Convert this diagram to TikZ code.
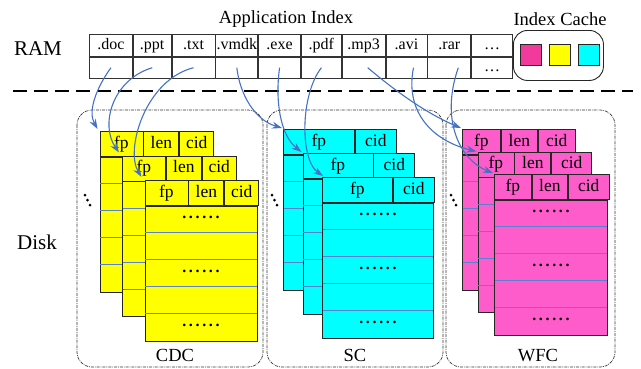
\documentclass[tikz,border=0pt]{standalone}
\usepackage{fontspec}
\setmainfont{Liberation Serif}
\usetikzlibrary{arrows.meta,calc}
\definecolor{arrblue}{RGB}{68,114,196}
\definecolor{rowblue}{RGB}{90,128,208}
\definecolor{cyel}{RGB}{255,255,0}
\definecolor{ccya}{RGB}{0,255,255}
\definecolor{cmag}{RGB}{255,92,203}
\definecolor{cachemag}{RGB}{242,58,156}
\newcommand\sixdots{.\,.\,.\,.\,.\,.}
\tikzset{
  cell/.style={draw=black!85, line width=0.9pt, inner sep=0pt, minimum height=25pt,
    text height=12pt, text depth=3.5pt, font=\fontsize{17.5}{17.5}\selectfont, anchor=north west},
  bodybox/.style={draw=black!85, line width=0.9pt, inner sep=0pt, minimum height=135pt, anchor=north west},
  rowline/.style={draw=rowblue, line width=0.9pt},
  tcell/.style={draw=black!80, line width=0.8pt, inner sep=0pt, text height=11pt, text depth=3pt,
    font=\fontsize{16}{16}\selectfont, anchor=north west},
  panel/.style={draw=black!80, line width=0.7pt, rounded corners=15pt,
    dash pattern=on 3pt off 1pt on 0.8pt off 1pt},
  arr/.style={draw=arrblue, line width=1.1pt, -{Stealth[length=10pt,width=7pt]}},
  bigtxt/.style={font=\fontsize{21}{21}\selectfont, inner sep=0pt},
  midtxt/.style={font=\fontsize{18.5}{18.5}\selectfont, inner sep=0pt},
  dotstxt/.style={font=\fontsize{16}{16}\selectfont\bfseries, inner sep=0pt},
  ddot/.style={fill=black, circle, inner sep=0pt, minimum size=3pt}
}
% three-cell card: #1 name, #2 x, #3 y, #4 colour, #5 #6 #7 cell widths, #8 = 1 for front card
\newcommand\cardthree[8]{%
  \node[cell, fill=#4, minimum width=#5pt] (#1a) at (#2,#3) {fp};
  \node[cell, fill=#4, minimum width=#6pt] (#1b) at (#1a.north east) {len};
  \node[cell, fill=#4, minimum width=#7pt] (#1c) at (#1b.north east) {cid};
  \pgfmathsetmacro\cw{#5+#6+#7}%
  \node[bodybox, fill=#4, minimum width=\cw pt] (#1body) at (#1a.south west) {};
  \foreach \k in {1,...,4}{\draw[rowline] ($(#1body.north west)+(0.5,\k*27)$) -- ($(#1body.north east)+(-0.5,\k*27)$);}
  \ifnum#8=1
    \node[dotstxt] (#1r1) at ($(#1body.north)+(0,12)$) {\sixdots};
    \node[dotstxt] (#1r3) at ($(#1body.north)+(0,66)$) {\sixdots};
    \node[dotstxt] (#1r5) at ($(#1body.north)+(0,120)$) {\sixdots};
  \fi
}
% two-cell card
\newcommand\cardtwo[7]{%
  \node[cell, fill=#4, minimum width=#5pt] (#1a) at (#2,#3) {fp};
  \node[cell, fill=#4, minimum width=#6pt] (#1c) at (#1a.north east) {cid};
  \pgfmathsetmacro\cw{#5+#6}%
  \node[bodybox, fill=#4, minimum width=\cw pt] (#1body) at (#1a.south west) {};
  \foreach \k in {1,...,4}{\draw[rowline] ($(#1body.north west)+(0.5,\k*27)$) -- ($(#1body.north east)+(-0.5,\k*27)$);}
  \ifnum#7=1
    \node[dotstxt] (#1r1) at ($(#1body.north)+(0,12)$) {\sixdots};
    \node[dotstxt] (#1r3) at ($(#1body.north)+(0,66)$) {\sixdots};
    \node[dotstxt] (#1r5) at ($(#1body.north)+(0,120)$) {\sixdots};
  \fi
}
\begin{document}
\begin{tikzpicture}[x=1pt,y=-1pt]
\useasboundingbox (0,0) rectangle (641,368);

% labels
\node[bigtxt] (ram) at (38,49) {RAM};
\node[bigtxt] (disk) at (37,242) {Disk};
\node[midtxt] (appidx) at (286,19) {Application Index};
\node[midtxt] (cachelbl) at (560,19) {Index Cache};

% application index table
\node[tcell, minimum width=43pt, minimum height=22pt] (t1) at (89,34) {.doc};
\node[tcell, minimum width=38pt, minimum height=22pt] (t2) at (t1.north east) {.ppt};
\node[tcell, minimum width=43pt, minimum height=22pt] (t3) at (t2.north east) {.txt};
\node[tcell, minimum width=42pt, minimum height=22pt] (t4) at (t3.north east) {.vmdk};
\node[tcell, minimum width=42pt, minimum height=22pt] (t5) at (t4.north east) {.exe};
\node[tcell, minimum width=40pt, minimum height=22pt] (t6) at (t5.north east) {.pdf};
\node[tcell, minimum width=43pt, minimum height=22pt] (t7) at (t6.north east) {.mp3};
\node[tcell, minimum width=41pt, minimum height=22pt] (t8) at (t7.north east) {.avi};
\node[tcell, minimum width=43pt, minimum height=22pt] (t9) at (t8.north east) {.rar};
\node[tcell, minimum width=41pt, minimum height=22pt] (t10) at (t9.north east) {…};
\foreach \i/\w in {1/43,2/38,3/43,4/42,5/42,6/40,7/43,8/41,9/43}{
  \node[tcell, minimum width=\w pt, minimum height=21pt] (b\i) at (t\i.south west) {};
}
\node[tcell, minimum width=41pt, minimum height=21pt] (b10) at (t10.south west) {…};

% index cache
\node[draw=black!85, line width=0.9pt, rounded corners=14pt, minimum width=90pt, minimum height=50pt,
  inner sep=0pt, anchor=north west] (cache) at (513,30) {};
\node[draw=black!85, fill=cachemag, minimum size=21pt, inner sep=0pt] (sqm) at (530.5,54.5) {};
\node[draw=black!85, fill=cyel, minimum size=21pt, inner sep=0pt] (sqy) at (560,54.5) {};
\node[draw=black!85, fill=ccya, minimum size=21pt, inner sep=0pt] (sqc) at (588.5,54.5) {};

% dashed separator
\coordinate (dl) at (13,91);
\coordinate (dr) at (633,91);
\draw[line width=2pt, dash pattern=on 14pt off 7pt] (dl) -- (dr);

% panels
\draw[panel] (77,110) rectangle (263,367);
\draw[panel] (267,110) rectangle (443,367);
\draw[panel] (446,110) rectangle (615,367);
\node[midtxt] (cdc) at (175,355) {CDC};
\node[midtxt] (sc) at (355,355) {SC};
\node[midtxt] (wfc) at (538,356) {WFC};

% ellipsis dots beside stacks
\foreach \p/\x in {c/85,s/272,w/451}{
  \node[ddot] (\p d1) at (\x,195) {};
  \node[ddot] (\p d2) at (\x+2.5,200) {};
  \node[ddot] (\p d3) at (\x+5,205) {};
}

% CDC cards
\cardthree{ca}{99.5}{131}{cyel}{43}{35}{34}{0}
\cardthree{cb}{122}{155.5}{cyel}{43}{35}{34}{0}
\cardthree{cc}{144.5}{180}{cyel}{43}{35}{34}{1}
% SC cards
\cardtwo{sa}{283}{129}{ccya}{71}{41}{0}
\cardtwo{sb}{302.5}{153}{ccya}{70}{41}{0}
\cardtwo{scc}{322}{177}{ccya}{70}{41}{1}
% WFC cards
\cardthree{wa}{462}{129}{cmag}{38}{36}{37}{0}
\cardthree{wb}{477.5}{151.5}{cmag}{36}{36}{40}{0}
\cardthree{wc}{494}{174}{cmag}{37}{35}{41}{1}

% arrows
\draw[arr] (b1.center) .. controls (95,90) and (88,112) .. ($(caa.north west)+(-2,-2)$);
\draw[arr] (b2.center) .. controls (112,80) and (100,125) .. ($(cba.north west)+(-3,-3)$);
\draw[arr] (b3.center) .. controls (145,80) and (125,150) .. ($(cca.north west)+(-3,-3)$);
\draw[arr] (b4.center) .. controls (240,95) and (255,120) .. ($(saa.north west)+(-1,-1)$);
\draw[arr] (b5.center) .. controls (275,100) and (280,135) .. ($(sba.north west)+(-1,-1)$);
\draw[arr] (b6.center) .. controls (300,95) and (300,160) .. ($(scca.north west)+(1,-1)$);
\draw[arr] ($(b7.center)+(4,0)$) .. controls (400,95) and (430,115) .. ($(waa.north west)+(-1,-1)$);
\draw[arr] ($(b8.center)+(7,0)$) .. controls (405,110) and (430,140) .. ($(wba.north west)+(-1,0)$);
\draw[arr] ($(b9.center)+(9,0)$) .. controls (440,120) and (460,160) .. ($(wca.north west)+(-1,-1)$);
\end{tikzpicture}
\end{document}
